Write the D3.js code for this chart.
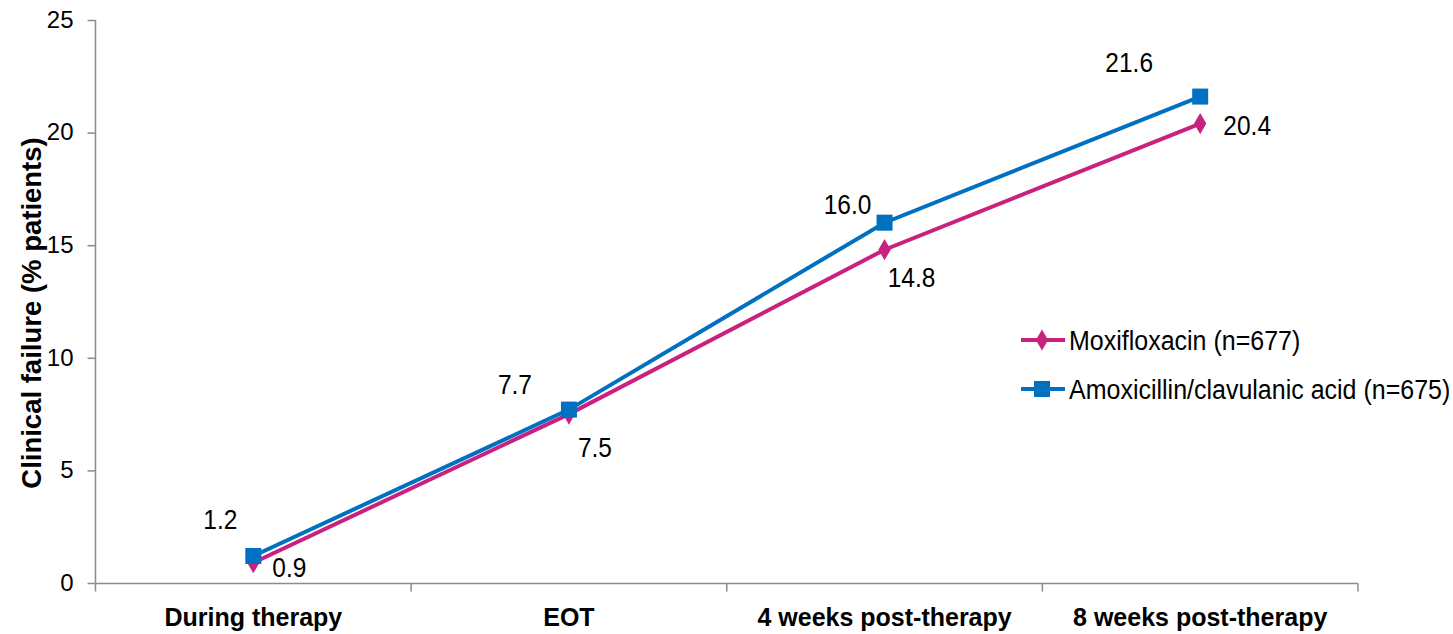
<!DOCTYPE html>
<html><head><meta charset="utf-8">
<script src="https://cdn.jsdelivr.net/npm/d3@7"></script>
<style>body{margin:0;background:#fff}text{font-family:"Liberation Sans",Arial,sans-serif}</style>
</head><body><svg id="c" width="1453" height="634"></svg>
<script>
const categories = ["During therapy","EOT","4 weeks post-therapy","8 weeks post-therapy"];
const moxifloxacin = [0.9,7.5,14.8,20.4];
const amoxicillin = [1.2,7.7,16.0,21.6];
const yTicks = [0,5,10,15,20,25];
const seriesNames = ["Moxifloxacin (n=677)","Amoxicillin/clavulanic acid (n=675)"];
const yTitle = "Clinical failure (% patients)";
// label offsets (px) relative to point
const moxiLabelOffsets = [[36,4],[26,33],[27,27],[47,2]];
const amoxLabelOffsets = [[-33,-37],[-54,-25],[-37,-19],[-71,-34]];

const svg = d3.select("#c");
const x = d3.scaleBand().domain(categories).range([95.5,1358]);
const y = d3.scaleLinear().domain([0,25]).range([583,20]);
const axisColor = "#8c8c8c";

const ya = svg.append("g").attr("transform","translate(95.5,0)")
  .call(d3.axisLeft(y).tickValues(yTicks).tickSize(8).tickPadding(14));
const xa = svg.append("g").attr("transform","translate(0,583.5)")
  .call(d3.axisBottom(x).tickSize(0));
[ya,xa].forEach(a=>{a.selectAll("path,line").attr("stroke",axisColor).attr("stroke-width",1.5);a.select(".domain").attr("stroke",axisColor);});
ya.select(".domain").attr("d","M0,20V583");
ya.selectAll("text").attr("font-size",24).attr("dy","0.3em").attr("fill","#000").attr("font-family","Liberation Sans, Arial");
xa.selectAll("text").attr("font-size",25).attr("font-weight","bold").attr("fill","#000")
  .attr("font-family","Liberation Sans, Arial").attr("y",42).attr("dy",0);
xa.select(".domain").attr("d","M95.5,0H1358");
const bounds = categories.map(c=>x(c)).concat([x.range()[1]]);
xa.selectAll(".bt").data(bounds).enter().append("line").attr("class","bt")
  .attr("x1",d=>d).attr("x2",d=>d).attr("y1",0).attr("y2",8).attr("stroke",axisColor).attr("stroke-width",1.5);

svg.append("text").attr("transform","translate(41,313) rotate(-90)").attr("text-anchor","middle")
  .attr("font-size",27.5).attr("font-weight","bold").text(yTitle);

const cx = c=>x(c)+x.bandwidth()/2;
const line = d3.line().x((d,i)=>cx(categories[i])).y(d=>y(d));
const magenta = "#C8217F", blue = "#0070C0";

svg.append("path").datum(moxifloxacin).attr("d",line).attr("fill","none").attr("stroke",magenta).attr("stroke-width",4);
svg.append("path").datum(amoxicillin).attr("d",line).attr("fill","none").attr("stroke",blue).attr("stroke-width",4);

const diamond = d3.symbol().type(d3.symbolDiamond).size(130);
svg.selectAll(".dm").data(moxifloxacin).enter().append("path")
  .attr("transform",(d,i)=>`translate(${cx(categories[i])},${y(d)})`).attr("d",diamond).attr("fill",magenta);
svg.selectAll(".sq").data(amoxicillin).enter().append("rect")
  .attr("x",(d,i)=>cx(categories[i])-8).attr("y",d=>y(d)-8).attr("width",16).attr("height",16).attr("fill",blue);

const lblSize = 24.5, stretch = 1.12;
function labels(data, offs, cls){
  svg.selectAll("."+cls).data(data).enter().append("text").attr("class",cls)
    .attr("transform",(d,i)=>`translate(${cx(categories[i])+offs[i][0]},${y(d)+offs[i][1]}) scale(1,${stretch})`)
    .attr("dy","0.36em").attr("text-anchor","middle").attr("font-size",lblSize).text(d=>d.toFixed(1));
}
labels(moxifloxacin, moxiLabelOffsets, "ml");
labels(amoxicillin, amoxLabelOffsets, "al");

// legend
const lg = svg.append("g").attr("transform","translate(1021,340)");
[[magenta,"d"],[blue,"s"]].forEach(([col,m],i)=>{
  const g = lg.append("g").attr("transform",`translate(0,${i*49})`);
  g.append("line").attr("x1",0).attr("x2",44).attr("stroke",col).attr("stroke-width",4);
  if(m==="d") g.append("path").attr("transform","translate(21,0)").attr("d",diamond).attr("fill",col);
  else g.append("rect").attr("x",13).attr("y",-8).attr("width",16).attr("height",16).attr("fill",col);
  g.append("text").attr("transform",`translate(48,0) scale(1,${stretch})`).attr("dy","0.36em").attr("font-size",25).text(seriesNames[i]);
});
</script></body></html>
